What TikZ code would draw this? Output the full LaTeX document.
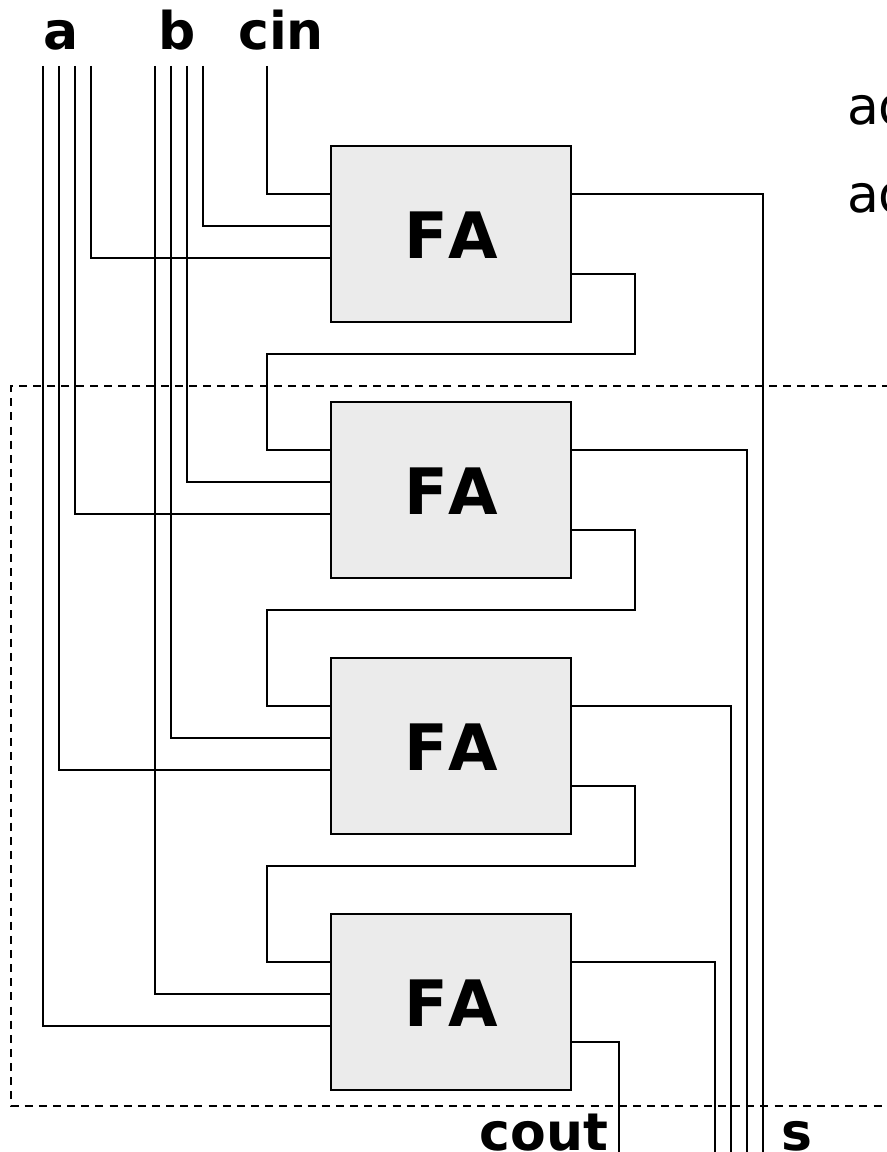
\documentclass[tikz,border=0pt]{standalone}
\usepackage{fontspec}
\setmainfont[Kerning=Off]{DejaVu Sans}
\usetikzlibrary{positioning}

\begin{document}
\begin{tikzpicture}[x=.75pt,y=-.75pt,line width=1.5pt,
 adder/.style={draw=black,fill=black!8,minimum width=180pt,minimum height=132pt,outer sep=0pt,text height=37pt,font=\fontsize{48}{48}\selectfont\bfseries},
 port/.style={inner sep=0pt,anchor=base,font=\fontsize{39}{39}\selectfont\bfseries},
 note/.style={inner sep=0pt,anchor=base west,font=\fontsize{39}{39}\selectfont},
 wire/.style={draw=black,line join=miter}, frame/.style={draw=black,dash pattern=on 6pt off 4.61pt,dash phase=2.25pt}]
\useasboundingbox (0,0) rectangle (887,1152);
\clip (0,0) rectangle (887,1152);

\node[port] (labela) at (61,50) {a};
\node[port] (labelb) at (177,50) {b};
\node[port] (labelcin) at (281,50) {cin};
\node[port] (labelcout) at (544,1150) {cout};
\node[port] (labels) at (797,1150) {s};
\node[note] (note1) at (846,125) {ad};
\node[note] (note2) at (846,212) {ad};

\node[adder] (fa1) at (451,234) {FA};
\node[adder,below=60pt of fa1] (fa2) {FA};
\node[adder,below=60pt of fa2] (fa3) {FA};
\node[adder,below=60pt of fa3] (fa4) {FA};

% dashed frame, open on the right
\coordinate (framea) at (887,386);
\coordinate (frameb) at (11,386);
\coordinate (framec) at (11,1106);
\coordinate (framed) at (887,1106);
\draw[frame] (framea) -- (frameb) -- (framec) -- (framed);

% pins of each adder
\foreach \i in {1,...,4} {
 \coordinate (ci\i) at ([yshift=30pt]fa\i.west);
 \coordinate (b\i) at ([yshift=6pt]fa\i.west);
 \coordinate (a\i) at ([yshift=-18pt]fa\i.west);
 \coordinate (sum\i) at ([yshift=30pt]fa\i.east);
 \coordinate (co\i) at ([yshift=-30pt]fa\i.east);
}

% inputs from the top
\coordinate (topcin) at (267,66);
\foreach \i/\xa/\xb in {1/91/203,2/75/187,3/59/171,4/43/155} {
 \coordinate (topa\i) at (\xa,66);
 \coordinate (topb\i) at (\xb,66);
 \draw[wire] (topa\i) |- (a\i);
 \draw[wire] (topb\i) |- (b\i);
}
\draw[wire] (topcin) |- (ci1);

% sums to the bottom
\foreach \i/\xs in {1/763,2/747,3/731,4/715} {
 \coordinate (out\i) at (\xs,1152);
 \draw[wire] (sum\i) -| (out\i);
}

% carries
\coordinate (bend) at (635,0);
\coordinate (back) at (267,0);
\foreach \i/\j in {1/2,2/3,3/4} {
 \coordinate (hop\i) at ([yshift=-24pt]fa\i.south);
 \draw[wire] (co\i) -| (bend |- hop\i) -- (back |- hop\i) |- (ci\j);
}
\coordinate (outc) at (619,1152);
\draw[wire] (co4) -| (outc);
\end{tikzpicture}
\end{document}
